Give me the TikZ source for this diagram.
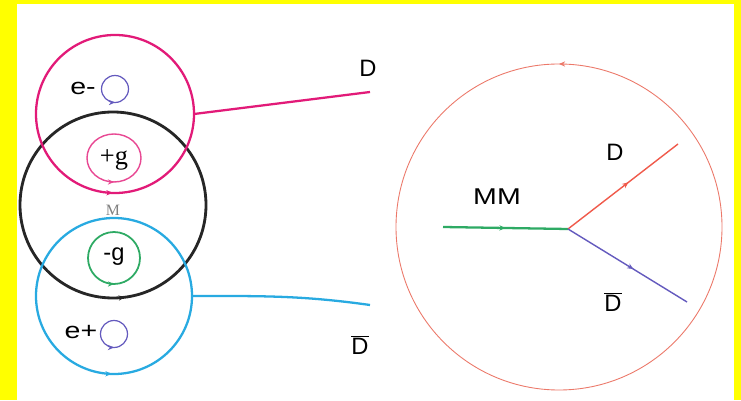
\documentclass[tikz,border=0pt]{standalone}
\usepackage{fontspec}
\setmainfont{Liberation Sans}
\newfontfamily\gserif{Liberation Serif}
\newfontfamily\widesans[FakeStretch=1.25]{Liberation Sans}
\usepackage{xcolor}
\usetikzlibrary{arrows.meta,calc,positioning,decorations.markings}
\definecolor{loopred}{RGB}{226,26,120}
\definecolor{loopblue}{RGB}{40,170,225}
\definecolor{loopgreen}{RGB}{46,170,100}
\definecolor{spinpurple}{RGB}{100,90,190}
\definecolor{rimred}{RGB}{236,120,105}
\definecolor{linered}{RGB}{240,90,75}
\definecolor{bgyellow}{RGB}{255,255,0}
\tikzset{
  flowmark/.style={postaction={decorate,decoration={markings,
      mark=at position #1 with {\arrow{Stealth[length=3.5pt,width=3pt]}}}}},
  lbl/.style={font=\fontsize{13.5}{15}\selectfont,inner sep=1pt},
  widelbl/.style={font=\widesans\fontsize{13}{15}\selectfont,inner sep=1pt},
}

\begin{document}
\begin{tikzpicture}[scale=1.0]
  \useasboundingbox (0,0) rectangle (14.82,8);
  \fill[bgyellow] (0,0) rectangle (14.82,8);
  \fill[white] (0.34,0) rectangle (14.68,7.92);
  % left: the two loops on the monopole ring
  \draw[line width=1.6pt,black!85,flowmark=0.77] (2.26,3.90) circle (1.86);
  \draw[line width=1.3pt,loopred,flowmark=0.745] (2.30,5.72) circle (1.58);
  \draw[line width=1.3pt,loopblue,flowmark=0.745] (2.28,2.08) circle (1.56);
  \draw[line width=0.8pt,loopred!80,flowmark=0.75] (2.28,4.84) ellipse (0.54 and 0.48);
  \draw[line width=1pt,loopgreen,flowmark=0.75] (2.28,2.84) circle (0.52);
  \draw[line width=0.7pt,spinpurple,flowmark=0.75] (2.30,6.22) circle (0.27);
  \draw[line width=0.7pt,spinpurple,flowmark=0.75] (2.28,1.32) circle (0.27);
  \node[widelbl] (eminus) at (1.66,6.24) {e-};
  \node[widelbl] (eplus) at (1.62,1.36) {e+};
  \node[lbl,font=\gserif\fontsize{15}{17}\selectfont] (gplus) at (2.28,4.80) {+g};
  \node[lbl] (gminus) at (2.28,2.86) {-g};
  \node[font=\gserif\fontsize{9}{10}\selectfont,gray] (mono) at (2.26,3.80) {M};
  \coordinate (redexit) at (3.88,5.72);
  \coordinate (blueexit) at (3.84,2.08);
  \coordinate (Dend) at (7.40,6.16);
  \coordinate (Dbarend) at (7.40,1.90);
  \draw[line width=1.3pt,loopred] (redexit) -- (Dend);
  \draw[line width=1.3pt,loopblue] (blueexit) to[out=0,in=172] (Dbarend);
  \node[lbl] (D) at (7.36,6.64) {D};
  \node[lbl] (Dbar) at (7.20,1.10) {$\overline{\mbox{D}}$};
  % right: the monopole splitting
  \draw[line width=0.5pt,rimred,flowmark=0.25] (11.18,3.46) circle (3.26);
  \coordinate (vertex) at (11.36,3.42);
  \coordinate (mmstart) at (8.86,3.46);
  \coordinate (dtip) at (13.56,5.12);
  \coordinate (dbartip) at (13.74,1.96);
  \draw[line width=1.3pt,loopgreen,flowmark=0.5] (mmstart) -- (vertex);
  \draw[line width=0.8pt,linered,flowmark=0.55] (vertex) -- (dtip);
  \draw[line width=0.8pt,spinpurple,flowmark=0.55] (vertex) -- (dbartip);
  \node[widelbl] (MM) at (9.94,4.06) {MM};
  \node[lbl] (Dr) at (12.30,4.96) {D};
  \node[lbl] (Dbarr) at (12.26,1.96) {$\overline{\mbox{D}}$};
\end{tikzpicture}
\end{document}
